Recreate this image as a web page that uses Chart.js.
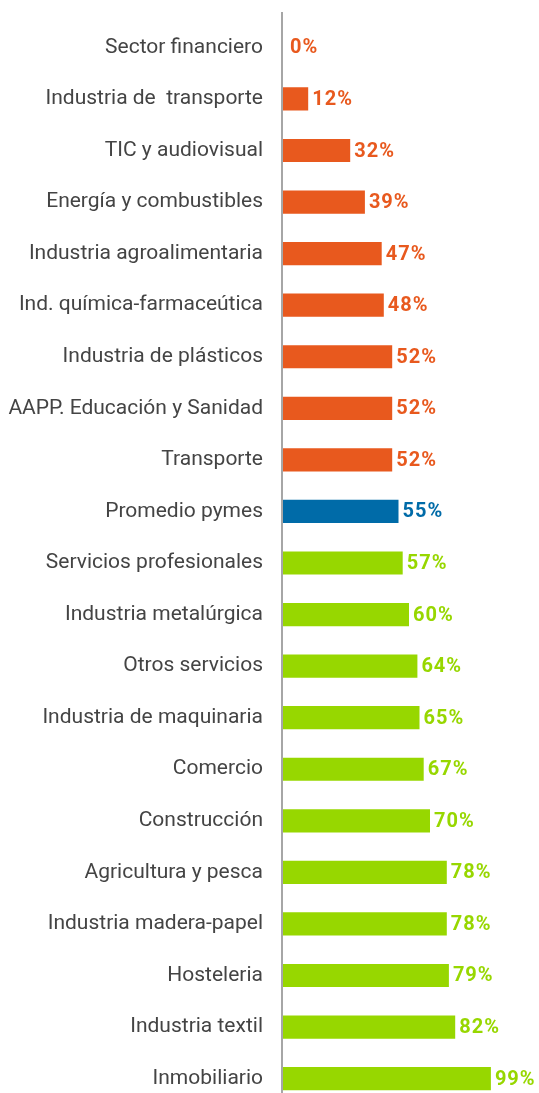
<!DOCTYPE html>
<html>
<head>
<meta charset="utf-8">
<script src="https://cdn.jsdelivr.net/npm/chart.js@4/dist/chart.umd.min.js"></script>
<style>
  html, body { margin: 0; padding: 0; background: #ffffff; overflow: hidden; }
  #wrap { width: 539px; height: 1132px; position: relative; margin-top: -3px; }
</style>
</head>
<body>
<div id="wrap"><canvas id="sectorChart"></canvas></div>
<script>
const sectors = [
  "Sector financiero", "Industria de  transporte", "TIC y audiovisual",
  "Energía y combustibles", "Industria agroalimentaria", "Ind. química-farmaceútica",
  "Industria de plásticos", "AAPP. Educación y Sanidad", "Transporte",
  "Promedio pymes", "Servicios profesionales", "Industria metalúrgica",
  "Otros servicios", "Industria de maquinaria", "Comercio", "Construcción",
  "Agricultura y pesca", "Industria madera-papel", "Hosteleria",
  "Industria textil", "Inmobiliario"
];
const percentages = [0, 12, 32, 39, 47, 48, 52, 52, 52, 55, 57, 60, 64, 65, 67, 70, 78, 78, 79, 82, 99];

const ORANGE = "#E8591E";
const BLUE = "#006BA8";
const GREEN = "#97D700";

function colorFor(i) {
  if (percentages[i] < percentages[9]) return ORANGE;
  if (i === 9) return BLUE;
  return GREEN;
}
const barColors = percentages.map((v, i) => colorFor(i));

const valueLabels = {
  id: 'valueLabels',
  afterDatasetsDraw(chart) {
    const ctx = chart.ctx;
    const meta = chart.getDatasetMeta(0);
    ctx.save();
    ctx.font = "bold 20px Roboto";
    ctx.letterSpacing = "1px";
    ctx.textBaseline = "middle";
    ctx.textAlign = "left";
    meta.data.forEach((bar, i) => {
      ctx.fillStyle = barColors[i];
      const x = percentages[i] === 0 ? bar.x + 7 : bar.x + 4;
      ctx.fillText(percentages[i] + "%", x, bar.y + 1);
    });
    ctx.restore();
  }
};

// vertical axis line, drawn a bit above the plot area like the original
const axisLine = {
  id: 'axisLine',
  afterDraw(chart) {
    const ctx = chart.ctx;
    const x = chart.scales.x.getPixelForValue(0);
    ctx.save();
    ctx.strokeStyle = "#A6A6A6";
    ctx.lineWidth = 2;
    ctx.beginPath();
    ctx.moveTo(x - 1, 15);
    ctx.lineTo(x - 1, chart.height);
    ctx.stroke();
    ctx.restore();
  }
};

const ctx = document.getElementById('sectorChart').getContext('2d');

const chart = new Chart(ctx, {
  type: 'bar',
  data: {
    labels: sectors,
    datasets: [
      {
        data: percentages,
        backgroundColor: barColors,
        barPercentage: 0.9,
        categoryPercentage: 0.5,
      },
    ]
  },
  options: {
    indexAxis: 'y',
    animation: false,
    responsive: true,
    maintainAspectRatio: false,
    layout: {
      padding: { top: 8, bottom: 7, left: 0, right: 4 },
    },
    plugins: {
      legend: { display: false },
      tooltip: { enabled: false },
    },
    scales: {
      x: {
        display: false,
        min: 0,
        max: 120,
      },
      y: {
        grid: { display: false },
        border: { display: false },
        ticks: {
          color: "#444444",
          padding: 12,
          font: { family: "Roboto", size: 21 },
        },
        afterFit(scale) {
          scale.width = 283;
        },
      },
    }
  },
  plugins: [valueLabels, axisLine],
});
</script>
</body>
</html>
